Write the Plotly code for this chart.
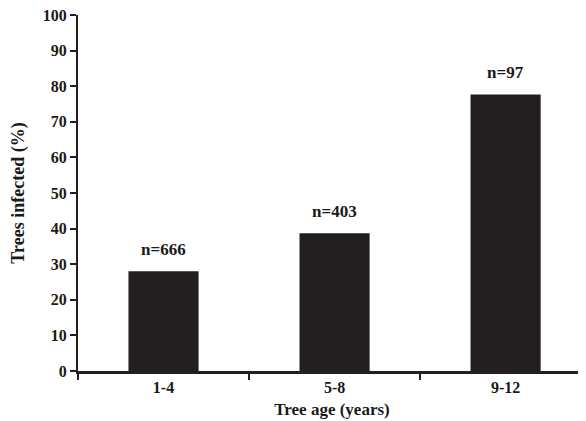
import plotly.graph_objects as go

# datos
edades = ['1-4', '5-8', '9-12']
infectados = [28.0, 38.7, 77.7]
etiquetas_n = ['n=666', 'n=403', 'n=97']

SERIF = 'Liberation Serif, Times New Roman, serif'
NEGRO = '#231f20'
FUENTE_TICK = dict(family=SERIF, size=16, color='#1a1a1a', weight='bold')
FUENTE_TIT = dict(family=SERIF, size=17, color='#1a1a1a', weight='bold')

fig = go.Figure(go.Bar(
    x=edades,
    y=infectados,
    width=0.41,
    marker=dict(color=NEGRO, line=dict(width=0)),
    hoverinfo='skip'
))

# etiquetas n= encima de cada barra
for edad, val, txt in zip(edades, infectados, etiquetas_n):
    fig.add_annotation(x=edad, y=val, text=txt, showarrow=False,
                       yanchor='bottom', yshift=10, font=FUENTE_TIT)

# la pagina tiene 8px de margen en el body, se compensa aqui
fig.update_layout(
    width=578, height=413,
    margin=dict(l=70, r=0, t=7, b=50),
    paper_bgcolor='white',
    plot_bgcolor='white',
    showlegend=False,
    font=FUENTE_TICK,
    bargap=0.59,
)

fig.update_xaxes(
    type='category',
    range=[-0.5, 2.47],
    showline=True, linewidth=3, linecolor=NEGRO,
    ticks='outside', tickson='boundaries', ticklen=6, tickwidth=2,
    tickcolor=NEGRO,
    showgrid=False, zeroline=False,
    tickfont=FUENTE_TICK,
    title=dict(text='Tree age (years)', font=FUENTE_TIT, standoff=8),
)

fig.update_yaxes(
    range=[0, 100], dtick=10,
    showline=True, linewidth=2, linecolor=NEGRO,
    ticks='outside', ticklen=6, tickwidth=2, tickcolor=NEGRO,
    ticklabeloverflow='allow',
    showgrid=False, zeroline=False,
    tickfont=FUENTE_TICK,
    title=dict(text='Trees infected (%)',
               font=dict(family=SERIF, size=18, color='#1a1a1a', weight='bold'),
               standoff=20),
)

fig.write_html('out.html')
